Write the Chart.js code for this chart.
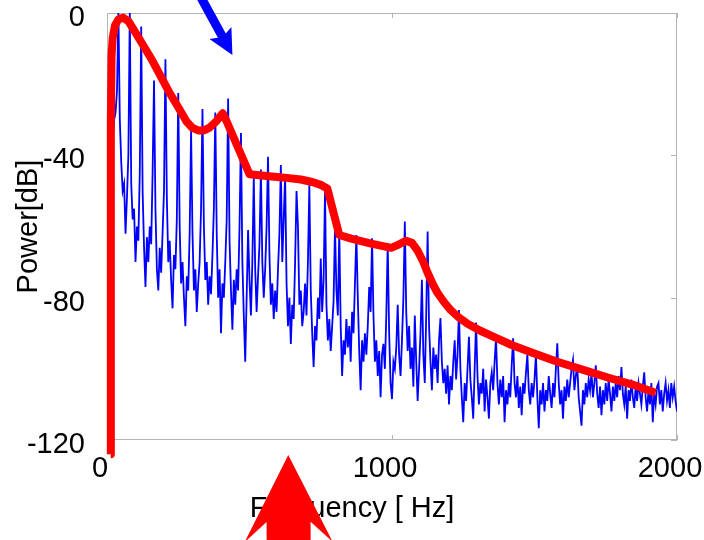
<!DOCTYPE html>
<html>
<head>
<meta charset="utf-8">
<title>Power spectrum</title>
<script src="https://cdn.jsdelivr.net/npm/chart.js@4.4.1/dist/chart.umd.min.js"></script>
<style>
  body { margin: 0; background: #ffffff; }
  #wrap { width: 704px; height: 540px; position: relative; }
</style>
</head>
<body>
<div id="wrap"><canvas id="spectrum"></canvas></div>
<script>
// FFT bin width of the measured spectrum (Hz)
const binHz = 5;

// measured power per bin, 0 .. 2000 Hz
const measuredPower = [
  -45, -42, -40, -38, -36, -30, -28, -22, 0.5, -30,
  -42, -50, -48, -62, -52, -40, 0.5, -48, -58, -55,
  -70, -60, -64, -45, -3.8, -50, -66, -77, -63, -70,
  -60, -65, -45, -19, -55, -72, -78, -66, -73, -62,
  -50, -13, -52, -70, -64, -75, -83, -68, -72, -58,
  -22.5, -60, -76, -70, -80, -88, -74, -78, -62, -33,
  -62, -78, -72, -84, -76, -70, -55, -27, -60, -75,
  -70, -82, -74, -79, -68, -55, -28, -62, -80, -72,
  -90, -76, -80, -70, -58, -24, -64, -78, -89, -75,
  -82, -72, -78, -60, -33.7, -70, -85, -98, -80, -61,
  -75, -85, -70, -46, -72, -84, -74, -65, -44, -70,
  -80, -72, -60, -40.4, -68, -82, -76, -86, -78, -84,
  -72, -62, -42.7, -70, -58, -45.6, -76, -88, -80, -93,
  -82, -86, -70, -50, -60, -82, -78, -88, -84, -76,
  -85, -70, -48.3, -78, -90, -99.5, -88, -92, -80, -86,
  -69, -84, -75, -49.8, -82, -92, -86, -95, -88, -81,
  -60, -78, -85, -61, -88, -102, -92, -96, -86, -94,
  -88, -98, -84, -90, -76, -62.4, -80, -95, -106, -92,
  -98, -90, -96, -88, -77, -84, -63.3, -85, -98, -92,
  -102, -95, -108, -96, -93, -100, -85, -64.7, -90, -104,
  -108.5, -98, -100, -94, -82, -96, -102, -92, -80, -58.6,
  -84, -95, -88, -100, -94, -105, -85, -98, -109, -100,
  -90, -75, -96, -104, -85, -61.4, -88, -98, -106, -94,
  -100, -96, -104, -92, -85.7, -98, -104, -100, -107, -99,
  -110, -102, -106, -98, -92, -103, -96, -83.5, -100, -108,
  -115, -104, -109, -100, -91, -103, -108, -114, -100, -87,
  -102, -110, -104, -107, -100, -112, -103, -108, -114, -104,
  -101, -106, -98, -91.4, -104, -110, -103, -108, -102, -115,
  -106, -110, -104, -108, -99, -91.4, -104, -108, -102, -111,
  -105, -113, -104, -107, -101, -96, -106, -110, -104, -108,
  -103, -96, -108, -116.7, -106, -110, -104, -112, -106, -109,
  -102, -107, -111, -104, -108, -100, -92.8, -104, -110, -106,
  -114, -105, -109, -103, -108, -104, -100, -97.5, -106, -102,
  -99, -108, -112, -116, -106, -110, -104, -108, -103, -106,
  -101, -108, -104, -99, -107, -111, -105, -113, -106, -110,
  -104, -109, -103, -107, -112, -105, -109, -104, -108, -102,
  -106, -99.5, -107, -110, -105, -114, -106, -109, -103, -108,
  -111, -105, -109, -104, -107, -110, -105, -101, -108, -112,
  -106, -110, -104, -115, -107, -110, -105, -104, -110, -106,
  -112, -107, -104, -109, -106, -111, -104, -108, -105, -109,
  -112
];

// envelope (thick red curve)
const envelopeHz = [
  13, 13, 14, 16, 20, 28, 40, 56, 75, 100,
  130, 160, 190, 220, 250, 279, 300, 320, 340, 360,
  385, 406, 420, 500, 560, 615, 680, 720, 750, 773,
  815, 857, 927, 997, 1025, 1049, 1070, 1090, 1110, 1125,
  1145, 1160, 1185, 1206, 1235, 1265, 1310, 1357, 1420, 1497,
  1580, 1671, 1760, 1846, 1925
];
const envelopePower = [
  -124, -60, -30, -12, -7, -3.5, -1.8, -1.3, -2.3, -5.5,
  -9.5, -13.5, -18, -22.5, -26.5, -30.5, -32.3, -33, -33, -32.2,
  -30.3, -28.2, -30.5, -45.3, -45.8, -46.2, -46.8, -47.5, -48.3, -49.3,
  -62.4, -63.4, -64.8, -66, -65, -64, -64.6, -66.8, -70, -73,
  -76.5, -78.7, -81.5, -83.5, -85.6, -87.3, -89.3, -91, -93.3, -95.6,
  -98, -100.3, -102.5, -104.5, -106.7
];

const xTicks = [0, 1000, 2000];
const yTicks = [-120, -80, -40, 0];

const axisGray = "#b4b4b4";
const fontFamily = "'Liberation Sans', Arial, sans-serif";

var measuredPoints = measuredPower.map((p, i) => ({ x: i * binHz, y: p }));
var envelopePoints = envelopeHz.map((f, i) => ({ x: f, y: envelopePower[i] }));

function drawArrow(ctx, tail, tip, shape, color) {
  var dx = tip.x - tail.x;
  var dy = tip.y - tail.y;
  var len = Math.sqrt(dx * dx + dy * dy);
  var ux = dx / len, uy = dy / len;
  var nx = -uy, ny = ux;

  function pt(back, side) {
    return [tip.x - ux * back + nx * side, tip.y - uy * back + ny * side];
  }

  var pts = [
    [tip.x, tip.y],
    pt(shape.barb, shape.head),
    pt(shape.notch, shape.shaft),
    [tail.x + nx * shape.shaft, tail.y + ny * shape.shaft],
    [tail.x - nx * shape.shaft, tail.y - ny * shape.shaft],
    pt(shape.notch, -shape.shaft),
    pt(shape.barb, -shape.head),
  ];

  ctx.beginPath();
  ctx.moveTo(pts[0][0], pts[0][1]);
  for (var i = 1; i < pts.length; i++) ctx.lineTo(pts[i][0], pts[i][1]);
  ctx.closePath();
  ctx.fillStyle = color;
  ctx.fill();
}

const frameAndArrows = {
  id: "frameAndArrows",
  beforeDatasetsDraw(chart) {
    const a = chart.chartArea;
    const ctx = chart.ctx;
    const xs = chart.scales.x;
    const ys = chart.scales.y;

    ctx.save();
    ctx.strokeStyle = axisGray;
    ctx.lineWidth = 1;
    ctx.strokeRect(a.left + 0.5, a.top + 0.5, a.right - a.left - 1, a.bottom - a.top - 1);

    ctx.beginPath();
    xTicks.forEach((v) => {
      var px = Math.round(xs.getPixelForValue(v)) + 0.5;
      ctx.moveTo(px, a.bottom);
      ctx.lineTo(px, a.bottom - 5);
      ctx.moveTo(px, a.top);
      ctx.lineTo(px, a.top + 5);
    });
    yTicks.forEach((v) => {
      var py = Math.round(ys.getPixelForValue(v)) + 0.5;
      ctx.moveTo(a.left, py);
      ctx.lineTo(a.left + 6, py);
      ctx.moveTo(a.right, py);
      ctx.lineTo(a.right - 6, py);
    });
    ctx.stroke();
    ctx.restore();
  },
  afterDraw(chart) {
    const ctx = chart.ctx;
    const xs = chart.scales.x;
    const ys = chart.scales.y;
    function at(f, p) {
      return { x: xs.getPixelForValue(f), y: ys.getPixelForValue(p) };
    }

    ctx.save();
    // blue arrow pointing at the 400 Hz region from above
    drawArrow(ctx, at(322, 5.5), at(440, -11.8),
      { barb: 25, notch: 22, head: 12.5, shaft: 4.5 }, "#0000ff");
    // big red arrow pointing up from under the axis
    drawArrow(ctx, at(638, -160), at(636, -124.2),
      { barb: 87, notch: 67, head: 44, shaft: 22 }, "#ff0000");
    ctx.restore();
  },
};

Chart.defaults.font.family = fontFamily;

new Chart(document.getElementById("spectrum"), {
  type: "line",
  data: {
    datasets: [
      {
        label: "Envelope",
        data: envelopePoints,
        borderColor: "#ff0000",
        borderWidth: 8,
        borderJoinStyle: "round",
        pointRadius: 0,
        tension: 0,
        clip: false,
      },
      {
        label: "Spectrum",
        data: measuredPoints,
        borderColor: "#0000ff",
        borderWidth: 1.8,
        pointRadius: 0,
        tension: 0,
      },
    ],
  },
  options: {
    responsive: true,
    maintainAspectRatio: false,
    animation: false,
    layout: { padding: { top: 13, left: 0, right: 0, bottom: 0 } },
    plugins: {
      legend: { display: false },
      tooltip: { enabled: false },
      title: {
        display: true,
        position: "bottom",
        text: "Frequency [ Hz]",
        color: "#000000",
        font: { size: 29, weight: "normal" },
        padding: { top: 0, bottom: 14 },
      },
    },
    scales: {
      x: {
        type: "linear",
        min: 0,
        max: 2000,
        grid: { display: false, drawTicks: false },
        border: { display: false },
        afterBuildTicks: (s) => { s.ticks = xTicks.map((v) => ({ value: v })); },
        ticks: {
          maxRotation: 0,
          autoSkip: false,
          padding: 12,
          labelOffset: -7,
          color: "#000000",
          font: { size: 29 },
          callback: (v) => String(v),
        },
        afterFit: (s) => {
          s.height = 51.2;
          s.paddingLeft = 0;
          s.paddingRight = 0;
        },
      },
      y: {
        min: -120,
        max: 0,
        grid: { display: false, drawTicks: false },
        border: { display: false },
        afterBuildTicks: (s) => { s.ticks = yTicks.map((v) => ({ value: v })); },
        ticks: {
          padding: 22,
          labelOffset: 5,
          color: "#000000",
          font: { size: 29 },
          callback: (v) => String(v),
        },
        title: {
          display: true,
          text: "Power[dB]",
          color: "#000000",
          font: { size: 29 },
          padding: { top: 12, bottom: 0 },
        },
        afterFit: (s) => {
          s.width = 107;
          s.paddingTop = 0;
          s.paddingBottom = 0;
        },
      },
      yRight: {
        position: "right",
        display: true,
        grid: { display: false, drawTicks: false },
        border: { display: false },
        ticks: { display: false },
        afterFit: (s) => { s.width = 27; },
      },
    },
  },
  plugins: [frameAndArrows],
});
</script>
</body>
</html>
